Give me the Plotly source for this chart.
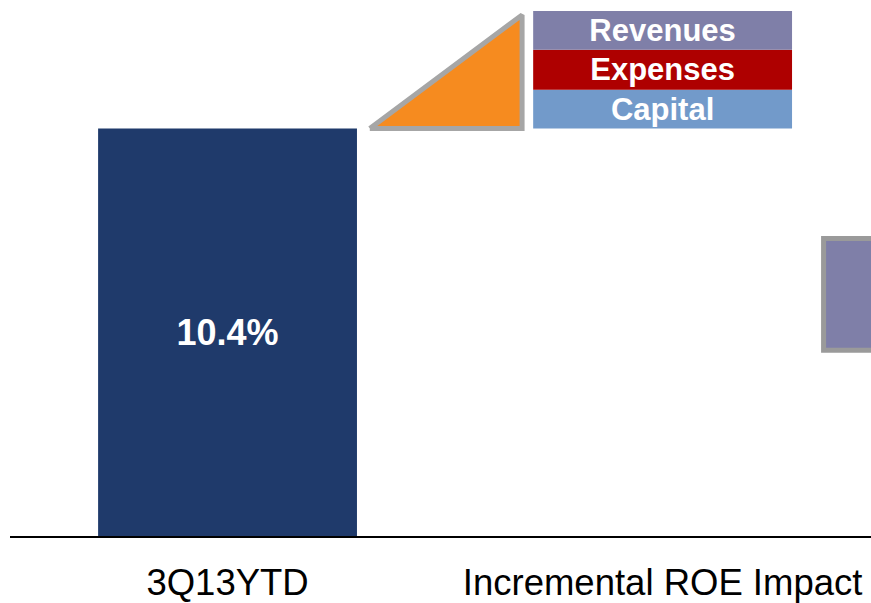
import plotly.graph_objects as go

# ---- data ----
categories = ["3Q13YTD", "Incremental ROE Impact"]
cat_pos = [0, 1]
base_roe = 10.4
base_label = "10.4%"

# incremental ROE impact (triangle) : from base to top
incr_top = 13.3

# legend-style stacked segments at the "Incremental ROE Impact" position
seg_names = ["Capital", "Expenses", "Revenues"]
seg_values = [0.99, 1.02, 0.99]
seg_colors = ["#729ACA", "#AE0000", "#7F7FA8"]

# partially visible bar on the right edge
right_bar_base = 4.74
right_bar_value = 2.85

FONT = "Liberation Sans, Arial, sans-serif"

fig = go.Figure()

# main bar
fig.add_trace(go.Bar(
    x=[cat_pos[0]], y=[base_roe], base=[0], width=0.595,
    marker=dict(color="#1F3A6B", line=dict(width=0)),
    text=[base_label], textposition="inside", insidetextanchor="middle",
    textangle=0, constraintext="none",
    textfont=dict(family=FONT, size=36, color="white", weight="bold"),
    showlegend=False, hoverinfo="skip",
))

# stacked legend segments
b = base_roe
for name, v, c in zip(seg_names, seg_values, seg_colors):
    fig.add_trace(go.Bar(
        x=[cat_pos[1]], y=[v], base=[b], width=0.595,
        marker=dict(color=c, line=dict(width=0)),
        text=[name], textposition="inside", insidetextanchor="middle",
        textangle=0, constraintext="none",
        textfont=dict(family=FONT, size=31, color="white", weight="bold"),
        showlegend=False, hoverinfo="skip",
    ))
    b += v

# right edge bar (cut off)
fig.add_trace(go.Bar(
    x=[1.67], y=[right_bar_value], base=[right_bar_base], width=0.6,
    marker=dict(color="#7F7FA8", line=dict(color="#9A9A9A", width=5)),
    showlegend=False, hoverinfo="skip",
))

# triangle for incremental impact
tri_x = [0.327, 0.677, 0.677, 0.327]
tri_y = [base_roe, incr_top, base_roe, base_roe]
fig.add_trace(go.Scatter(
    x=tri_x, y=tri_y, mode="lines", fill="toself",
    fillcolor="#F68B1F", line=dict(color="#A6A6A6", width=5),
    showlegend=False, hoverinfo="skip",
))

fig.update_layout(
    width=871, height=603,
    margin=dict(l=10, r=0, t=0, b=65),
    paper_bgcolor="white", plot_bgcolor="white",
    barmode="overlay",
    font=dict(family=FONT, color="black"),
    xaxis=dict(
        range=[-0.5, 1.479], tickmode="array", tickvals=cat_pos, ticktext=categories,
        tickfont=dict(family=FONT, size=36.5, color="black"),
        showline=True, linecolor="black", linewidth=2, showgrid=False,
        zeroline=False, ticks="", ticklabelstandoff=13,
    ),
    yaxis=dict(range=[0, 13.68], visible=False, showgrid=False, zeroline=False),
)

fig.write_html("out.html", config={"displayModeBar": False},
               post_script="document.body.style.margin='0';")
